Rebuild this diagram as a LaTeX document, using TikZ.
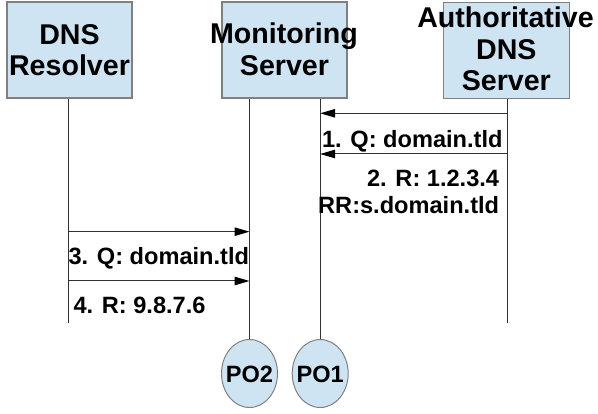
\documentclass[tikz,border=0pt]{standalone}
\usepackage{fontspec}
\setmainfont{Liberation Sans}
\usetikzlibrary{arrows.meta,shapes.geometric}
\definecolor{boxfill}{RGB}{207,228,243}
\definecolor{boxline}{RGB}{128,128,128}
\definecolor{wire}{RGB}{50,50,50}
\tikzset{
  actor/.style={draw=boxline, line width=1.2pt, fill=boxfill, rectangle, inner sep=0pt},
  probe/.style={draw=boxline, line width=1pt, fill=boxfill, ellipse, inner sep=0pt,
                minimum width=56pt, minimum height=68pt},
  head/.style={inner sep=0pt, anchor=base, font=\fontsize{28.6}{32}\selectfont\bfseries},
  msg/.style={inner sep=0pt, font=\fontsize{23.6}{26.5}\selectfont\bfseries},
  life/.style={draw=wire, line width=1pt},
  call/.style={draw=wire, line width=1pt, -{Triangle[length=15pt,width=8.5pt,color=black]}},
}
\begin{document}
\begin{tikzpicture}[x=1pt, y=-1pt]
\useasboundingbox (0,0) rectangle (598,414);

% participant boxes
\node[actor, minimum width=125pt, minimum height=96pt] (res) at (69.5,50) {};
\node[actor, minimum width=125pt, minimum height=96pt] (mon) at (284.5,50) {};
\node[actor, minimum width=126pt, minimum height=96pt] (auth) at (506.3,50.3) {};

\node[head] (resA) at (69.5,44.3) {DNS};
\node[head] (resB) at (69.5,76) {Resolver};
\node[head] (monA) at (284,43.5) {Monitoring};
\node[head] (monB) at (284.5,76) {Server};
\node[head] (authA) at (505.5,28) {Authoritative};
\node[head] (authB) at (506.3,59.5) {DNS};
\node[head] (authC) at (506.3,91) {Server};

% observation points
\node[probe] (po2) at (249.5,373.5) {};
\node[probe] (po1) at (320.2,373.5) {};
\node[msg, anchor=base] (po2t) at (249.5,382.7) {PO2};
\node[msg, anchor=base] (po1t) at (320.2,382.7) {PO1};

% lifelines
\coordinate (resEnd) at (68.3,323);
\coordinate (authEnd) at (507.3,323);
\draw[life] (res.south -| resEnd) -- (resEnd);
\draw[life] (auth.south -| authEnd) -- (authEnd);
\draw[life] (mon.south -| po2.north) -- (po2.north);
\draw[life] (mon.south -| po1.north) -- (po1.north);

% messages
\coordinate (m1s) at (507.3,113.3);
\coordinate (m2s) at (507.3,154);
\coordinate (m3s) at (68.3,231.7);
\coordinate (m4s) at (68.3,281);
\draw[call] (m1s) -- (m1s -| po1.north);
\draw[call] (m2s) -- (m2s -| po1.north);
\draw[call] (m3s) -- (m3s -| po2.north);
\draw[call] (m4s) -- (m4s -| po2.north);

\node[msg, anchor=base east] (l1) at (502.7,147.3) {1. Q: domain.tld};
\node[msg, anchor=base east] (l2a) at (499.3,186.7) {2. R: 1.2.3.4};
\node[msg, anchor=base east] (l2b) at (499.3,213.3) {RR:s.domain.tld};
\node[msg, anchor=base west] (l3) at (68.3,265) {3. Q: domain.tld};
\node[msg, anchor=base west] (l4) at (73.3,314) {4. R: 9.8.7.6};
\end{tikzpicture}
\end{document}
